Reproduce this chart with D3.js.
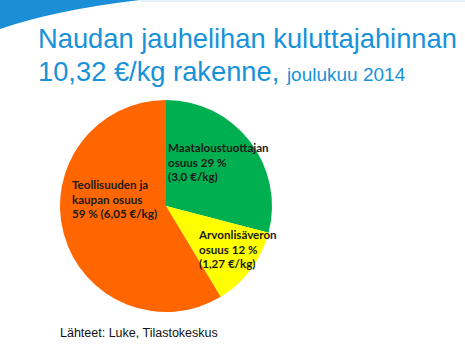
<!DOCTYPE html>
<html>
<head>
<meta charset="utf-8">
<script src="https://cdn.jsdelivr.net/npm/d3@7"></script>
<style>
  body { margin: 0; background: #fff; }
  svg { display: block; }
</style>
</head>
<body>
<div id="chart"><svg></svg></div>
<script>
let width = 465;
let height = 353;

// data
let shares = ['Maataloustuottajan osuus', 'Arvonlisäveron osuus', 'Teollisuuden ja kaupan osuus'];
let prices = [3.0, 1.27, 6.05];
let percents = [29, 12, 59];
let labelLines = [
    ['Maataloustuottajan', 'osuus 29 %', '(3,0 €/kg)'],
    ['Arvonlisäveron', 'osuus 12 %', '(1,27 €/kg)'],
    ['Teollisuuden ja', 'kaupan osuus', '59 % (6,05 €/kg)']
];
let colors = ['#00b050', '#ffff00', '#ff6600'];

let svg = d3.select('#chart').select('svg')
    .attr('width', width)
    .attr('height', height);

// top-left swoosh
svg.append('path')
    .attr('d', 'M0,0 L140,0 Q55,10 0,29 Z')
    .attr('fill', '#1a8fd8');
svg.append('rect')
    .attr('x', 140).attr('y', 0)
    .attr('width', 325).attr('height', 2)
    .attr('fill', '#e3f1fa');

// title
let title = svg.append('g')
    .style('font-family', '"Liberation Sans", Arial, sans-serif')
    .attr('fill', '#1792d8');
title.append('text')
    .attr('x', 38).attr('y', 48)
    .style('font-size', '27.3px')
    .text('Naudan jauhelihan kuluttajahinnan');
let t2 = title.append('text')
    .attr('x', 38).attr('y', 81)
    .style('font-size', '27.3px');
t2.append('tspan').text('10,32 €/kg rakenne, ');
t2.append('tspan').style('font-size', '19px').text('joulukuu 2014');

// pie
let cx = 166, cy = 206, r = 106;
let pie = d3.pie().sort(null).value(d => d);
let arc = d3.arc().innerRadius(0).outerRadius(r);
let g = svg.append('g').attr('transform', `translate(${cx},${cy})`);

g.selectAll('path')
    .data(pie(prices))
    .join('path')
    .attr('d', arc)
    .attr('fill', (d, i) => colors[i])
    .append('title')
    .text((d, i) => `${shares[i]} ${percents[i]} %`);

// label anchors relative to center
let labelOffset = [[2, -54], [33, 33], [-94, -17]];
g.selectAll('text.lbl')
    .data(labelLines)
    .join('text')
    .attr('class', 'lbl')
    .attr('x', (d, i) => labelOffset[i][0])
    .attr('y', (d, i) => labelOffset[i][1])
    .style('font-family', 'Lato, "Open Sans", sans-serif')
    .style('font-weight', 'bold')
    .style('font-size', '11.6px')
    .attr('fill', '#1a1a1a')
    .each(function (lines, i) {
        let t = d3.select(this);
        lines.forEach((s, j) => {
            t.append('tspan')
                .attr('x', labelOffset[i][0])
                .attr('dy', j == 0 ? 0 : 14.5)
                .text(s);
        });
    });

// source
svg.append('text')
    .attr('x', 60).attr('y', 337)
    .style('font-family', '"Liberation Sans", Arial, sans-serif')
    .style('font-size', '12.5px')
    .attr('fill', '#111')
    .text('Lähteet: Luke, Tilastokeskus');
</script>
</body>
</html>
